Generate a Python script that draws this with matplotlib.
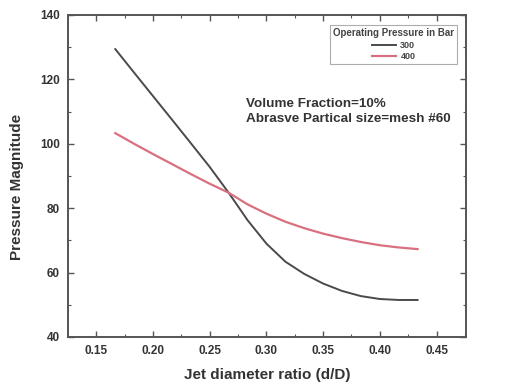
import numpy as np
import matplotlib.pyplot as plt
from matplotlib.ticker import MultipleLocator

# Значения
ratio = [0.1667, 0.1833, 0.2000, 0.2167, 0.2333, 0.2500, 0.2667, 0.2833, 0.3000,
         0.3167, 0.3333, 0.3500, 0.3667, 0.3833, 0.4000, 0.4167, 0.4333]
p300 = [129.4, 122.1, 114.8, 107.5, 100.2, 92.8, 84.8, 76.3, 69.0,
        63.4, 59.6, 56.6, 54.3, 52.7, 51.8, 51.5, 51.5]
p400 = [103.3, 100.0, 96.8, 93.7, 90.6, 87.6, 84.8, 81.2, 78.3,
        75.8, 73.8, 72.1, 70.7, 69.5, 68.5, 67.8, 67.3]
series_labels = ['300', '400']

plt.rcParams['font.family'] = ['Liberation Sans', 'DejaVu Sans']

fig = plt.figure(figsize=(5.21, 3.84), dpi=100)
ax = fig.add_axes([0.1305, 0.1224, 0.7639, 0.8386])

ax.plot(ratio, p300, color='#4a4a4a', lw=1.4, label=series_labels[0])
ax.plot(ratio, p400, color='#d9707f', lw=1.6, label=series_labels[1])

ax.set_xlim(0.125, 0.476)
ax.set_ylim(40, 140)
ax.xaxis.set_minor_locator(MultipleLocator(0.025))
ax.yaxis.set_major_locator(MultipleLocator(20))
ax.yaxis.set_minor_locator(MultipleLocator(10))
xt = np.arange(0.15, 0.451, 0.05)
ax.set_xticks(xt)
ax.set_xticklabels(['%.2f' % v for v in xt])

ax.tick_params(which='both', direction='in', top=True, right=True,
               color='#555555', labelcolor='#333333')
ax.tick_params(which='major', length=4, width=1.0, labelsize=8.5, pad=6)
ax.tick_params(which='minor', length=2, width=0.8)
for lbl in ax.get_xticklabels() + ax.get_yticklabels():
    lbl.set_fontweight('bold')
for sp in ax.spines.values():
    sp.set_color('#555555')
    sp.set_linewidth(1.4)

ax.set_xlabel('Jet diameter ratio (d/D)', fontsize=11, fontweight='bold',
              color='#333333', labelpad=8)
ax.set_ylabel('Pressure Magnitude', fontsize=11, fontweight='bold',
              color='#333333')
ax.yaxis.set_label_coords(-0.11, 0.466)

ax.text(0.2817, 110.0, 'Volume Fraction=10%\nAbrasve Partical size=mesh #60',
        fontsize=9.7, fontweight='bold', color='#333333', linespacing=1.35,
        va='center', ha='left')

leg = ax.legend(title='Operating Pressure in Bar', loc='upper right',
                fontsize=6.5, fancybox=False, edgecolor='#999999',
                handlelength=2.6, borderpad=0.35, labelspacing=0.25,
                handletextpad=0.5, bbox_to_anchor=(0.99, 0.982))
leg.get_title().set_fontsize(7)
leg.get_title().set_fontweight('bold')
leg.get_title().set_color('#444444')
for t in leg.get_texts():
    t.set_color('#444444')
    t.set_fontweight('bold')
leg.get_frame().set_linewidth(0.8)
leg._legend_box.align = 'center'

fig.savefig('out.png', dpi=100)
